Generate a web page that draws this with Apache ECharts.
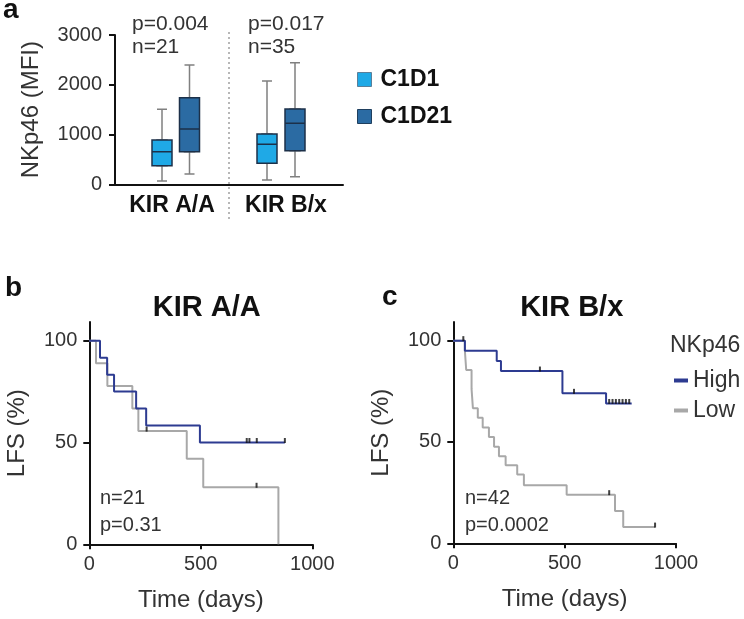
<!DOCTYPE html>
<html>
<head>
<meta charset="utf-8">
<script src="https://cdn.jsdelivr.net/npm/echarts@6/dist/echarts.min.js"></script>
<style>
  html, body { margin: 0; padding: 0; background: #fff; }
  #chart { width: 744px; height: 619px; }
</style>
</head>
<body>
<div id="chart"></div>
<script>
// ---------- Panel a: box plot data ([min, Q1, median, Q3, max]) ----------
const groups = ['KIR A/A', 'KIR B/x'];
const c1d1Box = [[66, 374, 655, 890, 1510], [86, 422, 804, 1010, 2075]];
const c1d21Box = [[207, 655, 1111, 1740, 2397], [153, 675, 1226, 1513, 2443]];
const boxTicks = [0, 1000, 2000, 3000];

// ---------- Panel b: KIR A/A Kaplan-Meier ([day, LFS %]) ----------
const aaHigh = [[0, 100], [48, 91.7], [80, 83.3], [111, 75], [210, 66.7], [255, 58.3], [496, 50], [877, 50]];
const aaHighCensor = [[706, 50], [718, 50], [751, 50], [877, 50]];
const aaLow = [[0, 100], [30, 88.9], [81, 77.8], [193, 66.7], [220, 55.6], [437, 42], [511, 28], [848, 0]];
const aaLowCensor = [[257, 55.6], [750, 28]];

// ---------- Panel c: KIR B/x Kaplan-Meier ([day, LFS %]) ----------
const bxHigh = [[0, 100], [52, 95], [195, 90], [214, 85], [490, 74], [686, 69], [801, 69]];
const bxHighCensor = [[45, 100], [389, 85], [542, 74], [700, 69], [715, 69], [730, 69], [745, 69], [760, 69], [775, 69], [790, 69]];
const bxLow = [[0, 100], [52, 95], [58, 85.5], [82, 76.2], [88, 66.7], [110, 61.9], [132, 57.1], [160, 52.4], [183, 47.6], [205, 42.9], [235, 38.5], [287, 34], [317, 28.6], [509, 24], [726, 16], [763, 8], [906, 8]];
const bxLowCensor = [[700, 24], [906, 8]];

const lfsTicks = [0, 50, 100];
const dayTicks = [0, 500, 1000];

// ---------- styles ----------
const FONT = 'Liberation Sans, Arial, Helvetica, sans-serif';
const AX = '#111';
const TXT = '#333';
const LIGHT = '#1fa9e6';
const DARK = '#2b6ba3';
const BOXLINE = '#1c3049';
const WHISK = '#808080';
const NAVY = '#2d3b91';
const GREY = '#a8a8a8';
const plain = v => String(v);

const boxOnly = arr => arr.map(d => [d[1], d[1], d[2], d[3], d[3]]);

function hiddenX(grid) {
  return { type: 'category', gridIndex: grid, data: groups, show: false };
}
function hiddenY(grid) {
  return { type: 'value', gridIndex: grid, min: 0, max: 3000, show: false };
}
function kmX(grid) {
  return {
    type: 'value', gridIndex: grid, min: 0, max: 1000, interval: 500,
    name: 'Time (days)', nameLocation: 'middle', nameGap: 44,
    nameTextStyle: { fontFamily: FONT, fontSize: 24, color: TXT },
    axisLine: { show: true, onZero: false, lineStyle: { color: AX, width: 2 } },
    axisTick: { show: true, length: 5, lineStyle: { color: AX, width: 2 }, customValues: dayTicks },
    axisLabel: { fontFamily: FONT, fontSize: 20, color: TXT, margin: 10, customValues: dayTicks, formatter: plain },
    splitLine: { show: false }
  };
}
function kmY(grid) {
  return {
    type: 'value', gridIndex: grid, min: 0, max: 109.2,
    name: 'LFS (%)', nameLocation: 'middle', nameGap: 60, nameRotate: 90,
    nameTextStyle: { fontFamily: FONT, fontSize: 24, color: TXT },
    axisLine: { show: true, onZero: false, lineStyle: { color: AX, width: 2 } },
    axisTick: { show: true, length: 6, lineStyle: { color: AX, width: 2 }, customValues: lfsTicks },
    axisLabel: { fontFamily: FONT, fontSize: 20, color: TXT, margin: 12, customValues: lfsTicks, formatter: plain },
    splitLine: { show: false }
  };
}
function kmLine(name, data, color, xi, yi) {
  return {
    type: 'line', name: name, data: data, step: 'end', xAxisIndex: xi, yAxisIndex: yi,
    showSymbol: false, symbol: 'none', color: color,
    itemStyle: { color: color },
    lineStyle: { color: color, width: 2 }, emphasis: { disabled: true }, z: color === NAVY ? 4 : 3
  };
}
function censor(data, xi, yi) {
  return {
    type: 'scatter', name: 'censored', data: data, xAxisIndex: xi, yAxisIndex: yi,
    symbol: 'rect', symbolSize: [2, 5], symbolOffset: [0, -2],
    itemStyle: { color: '#111' }, emphasis: { disabled: true }, z: 6
  };
}

const chart = echarts.init(document.getElementById('chart'), null, { renderer: 'canvas' });

const option = {
  animation: false,
  backgroundColor: '#fff',
  textStyle: { fontFamily: FONT },
  grid: [
    { left: 115, top: 35, width: 228, height: 149.3 },
    { left: 109.5, top: 35, width: 210, height: 149.3 },
    { left: 136.75, top: 35, width: 211, height: 149.3 },
    { left: 89.3, top: 322, width: 223, height: 222.3 },
    { left: 453.3, top: 322, width: 222.7, height: 221.3 }
  ],
  xAxis: [
    {
      type: 'category', gridIndex: 0, data: groups,
      axisLine: { show: true, lineStyle: { color: AX, width: 2 } },
      axisTick: { show: false },
      axisLabel: { fontFamily: FONT, fontSize: 23, fontWeight: 'bold', color: AX, margin: 10 },
      splitLine: { show: false }
    },
    hiddenX(1), hiddenX(1), hiddenX(2), hiddenX(2),
    kmX(3), kmX(4)
  ],
  yAxis: [
    {
      type: 'value', gridIndex: 0, min: 0, max: 3000, interval: 1000,
      name: 'NKp46 (MFI)', nameLocation: 'middle', nameGap: 72, nameRotate: 90,
      nameTextStyle: { fontFamily: FONT, fontSize: 24, color: TXT },
      axisLine: { show: true, lineStyle: { color: AX, width: 2 } },
      axisTick: { show: true, length: 6, lineStyle: { color: AX, width: 2 } },
      axisLabel: { fontFamily: FONT, fontSize: 20, color: TXT, margin: 13, customValues: boxTicks, formatter: plain },
      splitLine: { show: false }
    },
    hiddenY(1), hiddenY(2),
    kmY(3), kmY(4)
  ],
  legend: [
    {
      data: [
        { name: 'C1D1', itemStyle: { color: LIGHT, borderColor: '#5a7f99', borderWidth: 1 } },
        { name: 'C1D21', itemStyle: { color: DARK, borderColor: '#1f3f5e', borderWidth: 1 } }
      ],
      orient: 'vertical', left: 352, top: 63,
      icon: 'rect', itemWidth: 14, itemHeight: 14, itemGap: 14,
      selectedMode: false,
      textStyle: { fontFamily: FONT, fontSize: 23, fontWeight: 'bold', color: AX, padding: [0, 0, 0, 4] }
    },
    {
      data: ['High', 'Low'], orient: 'vertical', left: 669, top: 364,
      icon: 'rect', itemWidth: 14, itemHeight: 4, itemGap: 7,
      selectedMode: false,
      textStyle: { fontFamily: FONT, fontSize: 23, color: TXT, padding: [0, 0, 0, 0] }
    }
  ],
  graphic: [
    { type: 'text', left: 3, top: -4, style: { text: 'a', font: 'bold 28px ' + FONT, fill: AX } },
    { type: 'text', left: 5, top: 274, style: { text: 'b', font: 'bold 28px ' + FONT, fill: AX } },
    { type: 'text', left: 382, top: 283, style: { text: 'c', font: 'bold 28px ' + FONT, fill: AX } },
    { type: 'line', shape: { x1: 229, y1: 32, x2: 229, y2: 220 }, style: { stroke: '#a0a0a0', lineWidth: 1.5, lineDash: [2, 3] } },
    { type: 'text', left: 132, top: 14, style: { text: 'p=0.004', font: '21px ' + FONT, fill: TXT } },
    { type: 'text', left: 132, top: 37, style: { text: 'n=21', font: '21px ' + FONT, fill: TXT } },
    { type: 'text', left: 248, top: 14, style: { text: 'p=0.017', font: '21px ' + FONT, fill: TXT } },
    { type: 'text', left: 248, top: 37, style: { text: 'n=35', font: '21px ' + FONT, fill: TXT } },
    { type: 'text', left: 100, top: 488, style: { text: 'n=21', font: '20px ' + FONT, fill: TXT } },
    { type: 'text', left: 100, top: 515, style: { text: 'p=0.31', font: '20px ' + FONT, fill: TXT } },
    { type: 'text', left: 465, top: 488, style: { text: 'n=42', font: '20px ' + FONT, fill: TXT } },
    { type: 'text', left: 465, top: 515, style: { text: 'p=0.0002', font: '20px ' + FONT, fill: TXT } },
    { type: 'text', left: 670, top: 334, style: { text: 'NKp46', font: '23px ' + FONT, fill: TXT } }
  ],
  title: [
    { text: 'KIR A/A', left: 201.7, top: 288, textAlign: 'center',
      textStyle: { fontFamily: FONT, fontSize: 29, fontWeight: 'bold', color: AX } },
    { text: 'KIR B/x', left: 566.7, top: 288, textAlign: 'center',
      textStyle: { fontFamily: FONT, fontSize: 29, fontWeight: 'bold', color: AX } }
  ],
  series: [
    { type: 'boxplot', name: 'C1D1 whisker', data: c1d1Box, xAxisIndex: 1, yAxisIndex: 1,
      boxWidth: [10, 10], itemStyle: { color: 'rgba(0,0,0,0)', borderColor: WHISK, borderWidth: 1.5 },
      emphasis: { disabled: true }, z: 2 },
    { type: 'boxplot', name: 'C1D1', data: boxOnly(c1d1Box), xAxisIndex: 2, yAxisIndex: 1,
      boxWidth: [20, 20], itemStyle: { color: LIGHT, borderColor: BOXLINE, borderWidth: 1.5 },
      emphasis: { disabled: true }, z: 3 },
    { type: 'boxplot', name: 'C1D21 whisker', data: c1d21Box, xAxisIndex: 3, yAxisIndex: 2,
      boxWidth: [10, 10], itemStyle: { color: 'rgba(0,0,0,0)', borderColor: WHISK, borderWidth: 1.5 },
      emphasis: { disabled: true }, z: 2 },
    { type: 'boxplot', name: 'C1D21', data: boxOnly(c1d21Box), xAxisIndex: 4, yAxisIndex: 2,
      boxWidth: [20, 20], itemStyle: { color: DARK, borderColor: BOXLINE, borderWidth: 1.5 },
      emphasis: { disabled: true }, z: 3 },

    kmLine('Low', aaLow, GREY, 5, 3),
    kmLine('High', aaHigh, NAVY, 5, 3),
    censor(aaLowCensor, 5, 3),
    censor(aaHighCensor, 5, 3),

    kmLine('Low', bxLow, GREY, 6, 4),
    kmLine('High', bxHigh, NAVY, 6, 4),
    censor(bxLowCensor, 6, 4),
    censor(bxHighCensor, 6, 4)
  ]
};

chart.setOption(option);
</script>
</body>
</html>
